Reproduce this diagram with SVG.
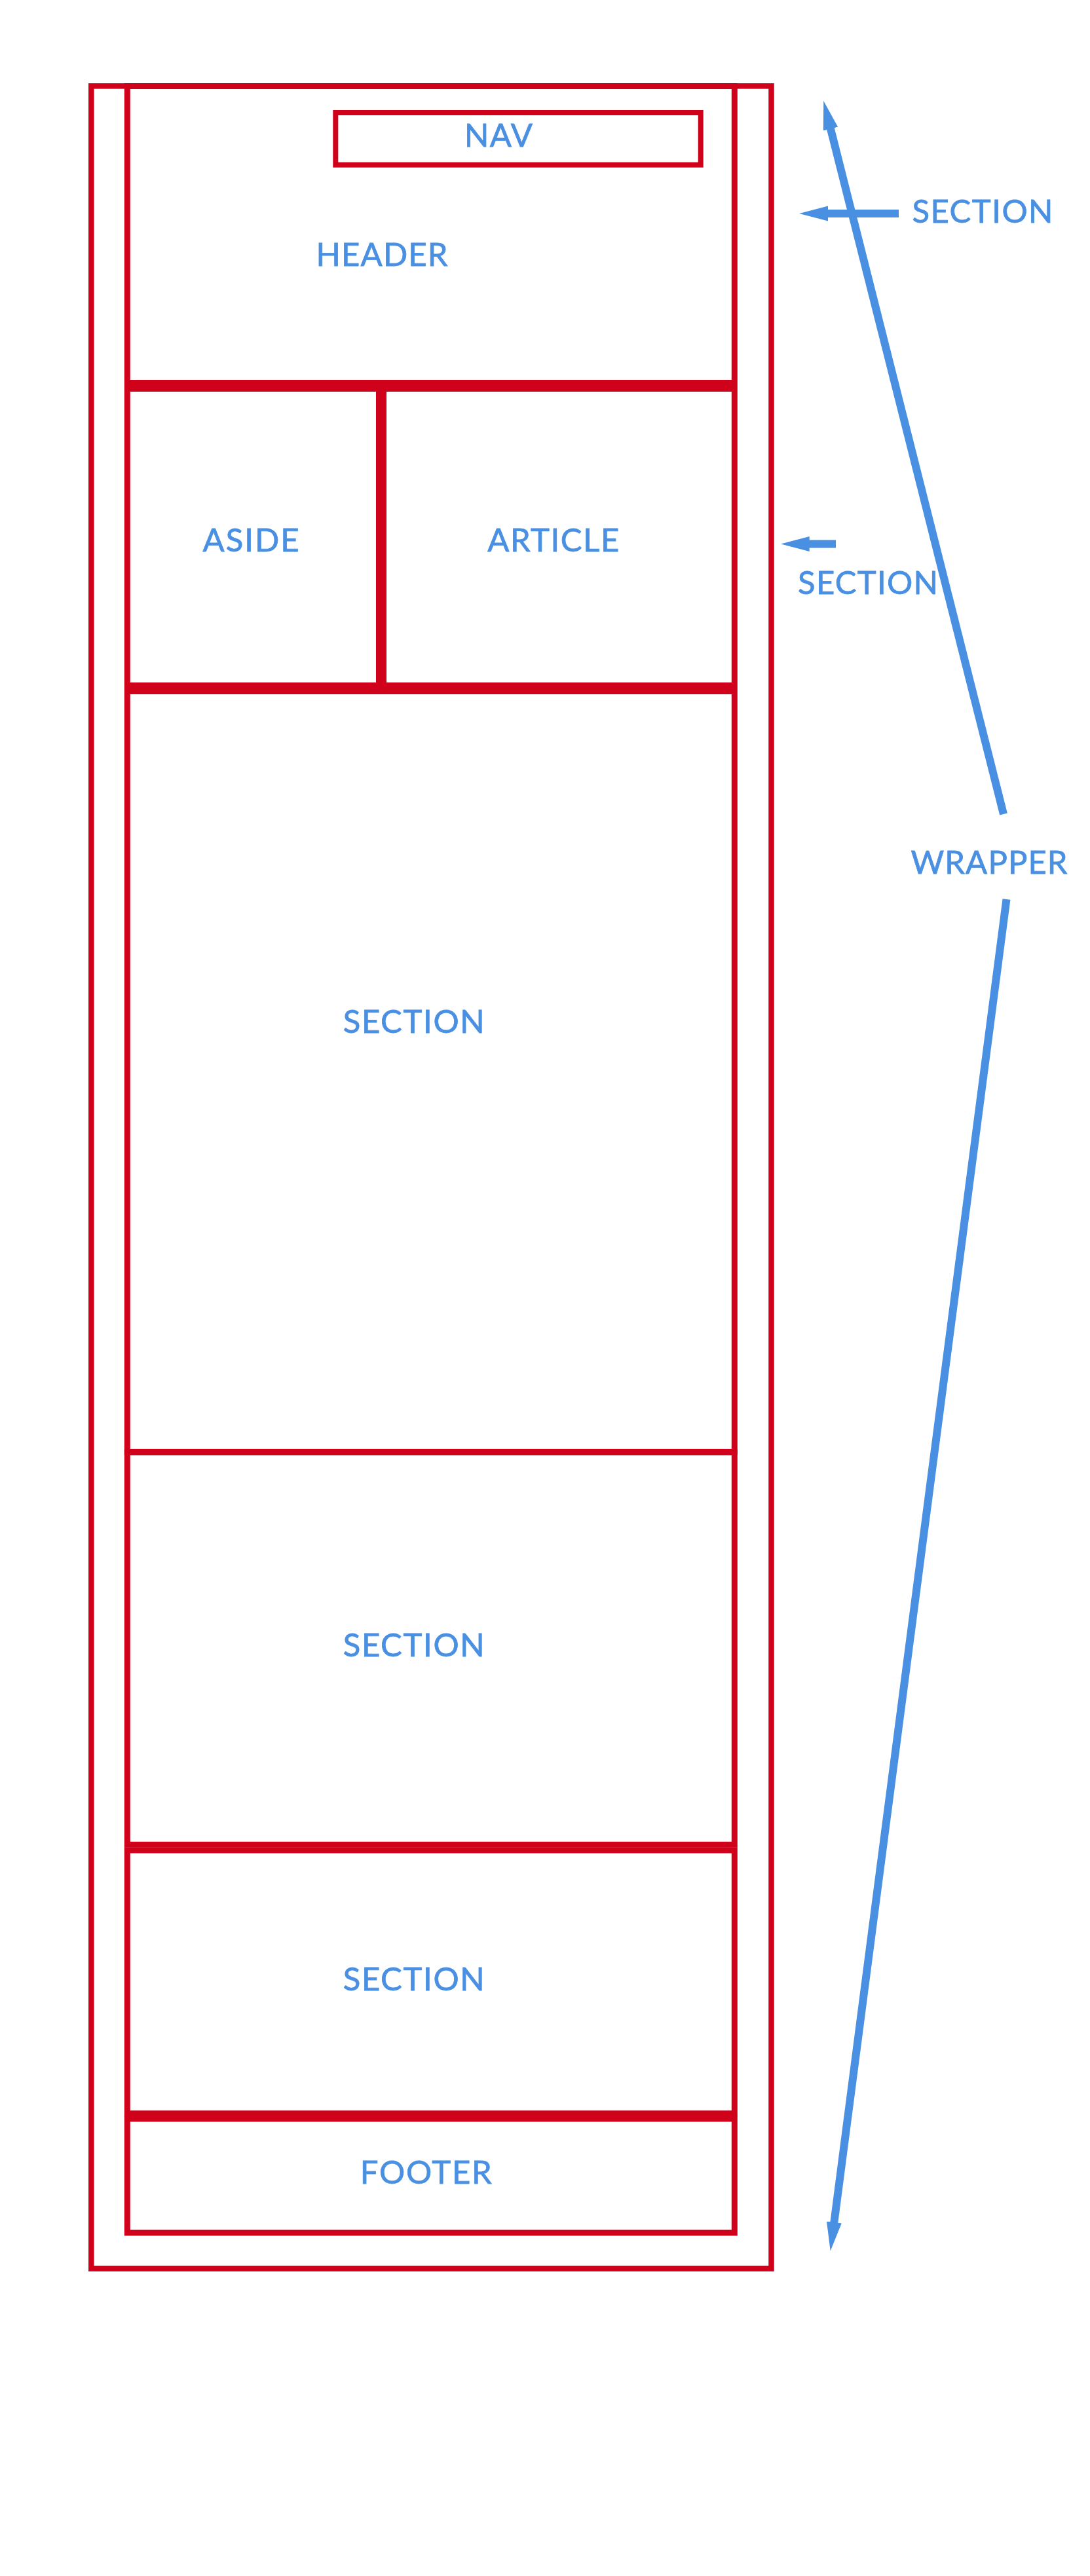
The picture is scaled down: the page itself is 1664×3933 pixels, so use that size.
<svg xmlns="http://www.w3.org/2000/svg" width="1664" height="3933" viewBox="0 0 1664 3933">
<defs>
<style>
.box{fill:none;stroke:#D0021B;stroke-width:9}
.lbl{font-family:Lato,"Noto Sans","Liberation Sans",sans-serif;font-size:49px;fill:#4A90E2;stroke:#4A90E2;stroke-width:0.8;text-anchor:middle}
.conn{stroke:#4A90E2;stroke-width:12;fill:none}
</style>
<marker id="ah" markerUnits="userSpaceOnUse" viewBox="0 -12 44 24" refX="2" refY="0" markerWidth="44" markerHeight="24" orient="auto">
<path d="M0,-11.5 L44,0 L0,11.5 z" fill="#4A90E2"/>
</marker>
</defs>
<rect width="1664" height="3933" fill="#FFFFFF"/>
<g id="wrapper">
<rect class="box" x="139.3" y="131.4" width="1038.2" height="3332.3" style="stroke-width:8.5"/>
</g>
<g id="header">
<rect class="box" x="194.3" y="131.5" width="927" height="453"/>
<text class="lbl" x="583" y="406" textLength="201">HEADER</text>
</g>
<g id="nav">
<rect class="box" x="512.3" y="172" width="557.4" height="79.7" style="stroke-width:8"/>
<text class="lbl" x="761" y="224" textLength="104">NAV</text>
</g>
<g id="aside">
<rect class="box" x="194.3" y="593.5" width="384.2" height="453"/>
<text class="lbl" x="383" y="841.5" textLength="147">ASIDE</text>
</g>
<g id="article">
<rect class="box" x="585.5" y="593.5" width="535.8" height="453"/>
<text class="lbl" x="844.7" y="841.5" textLength="201">ARTICLE</text>
</g>
<g id="section-1">
<rect class="box" x="194.3" y="1055.5" width="927" height="1161"/>
<text class="lbl" x="631.7" y="1577" textLength="216">SECTION</text>
</g>
<g id="section-2">
<rect class="box" x="194.3" y="2217.5" width="927" height="598.8"/>
<text class="lbl" x="631.7" y="2529" textLength="216">SECTION</text>
</g>
<g id="section-3">
<rect class="box" x="194.3" y="2825" width="927" height="401.8"/>
<text class="lbl" x="631.7" y="3039" textLength="216">SECTION</text>
</g>
<g id="footer">
<rect class="box" x="194.3" y="3235" width="927" height="174"/>
<text class="lbl" x="650.3" y="3334" textLength="201">FOOTER</text>
</g>
<g id="label-section-top">
<text class="lbl" x="1500" y="340" textLength="215">SECTION</text>
</g>
<g id="label-section-middle">
<text class="lbl" x="1325" y="906.5" textLength="214">SECTION</text>
</g>
<g id="label-wrapper">
<text class="lbl" x="1510" y="1333.6" textLength="239">WRAPPER</text>
</g>
<g id="connectors">
<line class="conn" x1="1372" y1="326" x2="1262" y2="326" marker-end="url(#ah)"/>
<line class="conn" x1="1276" y1="830.5" x2="1233.7" y2="830.5" marker-end="url(#ah)"/>
<line class="conn" x1="1532" y1="1243" x2="1267.5" y2="194.7" marker-end="url(#ah)"/>
<line class="conn" x1="1536.5" y1="1373" x2="1273.1" y2="3395" marker-end="url(#ah)"/>
</g>
</svg>
